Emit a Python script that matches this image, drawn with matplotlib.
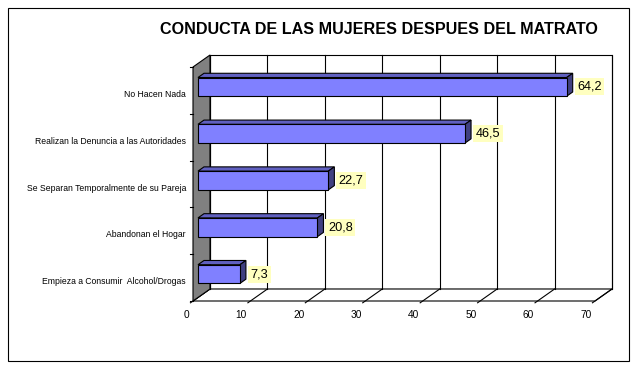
import matplotlib
matplotlib.use('Agg')
import matplotlib.pyplot as plt
from matplotlib.patches import Polygon, Rectangle
from matplotlib.lines import Line2D
from matplotlib.transforms import IdentityTransform, offset_copy

plt.rcParams['font.family'] = ['Liberation Sans', 'DejaVu Sans']

# ---- data ----
categories = ["No Hacen Nada",
              "Realizan la Denuncia a las Autoridades",
              "Se Separan Temporalmente de su Pareja",
              "Abandonan el Hogar",
              "Empieza a Consumir  Alcohol/Drogas"]
values = [64.2, 46.5, 22.7, 20.8, 7.3]
value_labels = ["64,2", "46,5", "22,7", "20,8", "7,3"]
xticks = [0, 10, 20, 30, 40, 50, 60, 70]
xtick_labels = ["0", "10", "20", "30", "40", "50", "60", "70"]
title = "CONDUCTA DE LAS MUJERES DESPUES DEL MATRATO"

W, H = 638, 368
fig = plt.figure(figsize=(W / 100, H / 100), dpi=100)
fig.patch.set_facecolor('white')

# outer border
fig.add_artist(Rectangle((7.5 / W, 1 - 360.5 / H), (629 - 7.5) / W, (360.5 - 7.5) / H,
                         transform=fig.transFigure, fill=False, lw=0.8, ec='black'))

ax = fig.add_axes([193 / W, 1 - 301 / H, (595 - 193) / W, (301 - 67) / H])
ax.set_xlim(xticks[0], xticks[-1])
n = len(categories)
ax.set_ylim(n - 0.5, -0.5)
ax.axis('off')

DX, DY = 17, 12          # depth offset (pixels) of the back wall
D0, D1 = 5 / 17, 11 / 17  # bar front / back depth fractions
LW = 0.8
XMIN, XMAX = xticks[0], xticks[-1]
YTOP, YBOT = -0.5, n - 0.5


def P(x, y, d=0.0):
    px, py = ax.transData.transform((x, y))
    return (px + d * DX, py + d * DY)


def poly(pts, fc, z, ec='black'):
    p = Polygon(pts, closed=True, transform=IdentityTransform(), clip_on=False,
                fc=fc, ec=ec, lw=LW, zorder=z)
    ax.add_patch(p)


def line(a, b, z, color='black'):
    l = Line2D([a[0], b[0]], [a[1], b[1]], transform=IdentityTransform(),
               clip_on=False, color=color, lw=LW, zorder=z)
    ax.add_line(l)


# back wall
poly([P(XMIN, YTOP, 1), P(XMAX, YTOP, 1), P(XMAX, YBOT, 1), P(XMIN, YBOT, 1)], 'white', 1)
for t in xticks:
    line(P(t, YTOP, 1), P(t, YBOT, 1), 2)

# floor
poly([P(XMIN, YBOT, 0), P(XMAX, YBOT, 0), P(XMAX, YBOT, 1), P(XMIN, YBOT, 1)], 'white', 1)
for t in xticks:
    line(P(t, YBOT, -0.15), P(t, YBOT, 1), 2)

# grey side wall
poly([P(XMIN, YTOP, 0), P(XMIN, YTOP, 1), P(XMIN, YBOT, 1), P(XMIN, YBOT, 0)], '#808080', 3)

# category ticks
for k in range(n + 1):
    a = P(XMIN, k - 0.5, 0)
    line((a[0] - 3, a[1]), a, 3)

# bars
bh = 0.4
front_tr = offset_copy(ax.transData, fig=fig, x=D0 * DX, y=D0 * DY, units='dots')
ax.barh(range(n), values, height=bh, left=0, color='#8080FF', edgecolor='black',
        lw=LW, transform=front_tr, zorder=5, clip_on=False)
for i, v in enumerate(values):
    top = i - bh / 2
    bot = i + bh / 2
    poly([P(0, top, D0), P(v, top, D0), P(v, top, D1), P(0, top, D1)], '#6060C0', 4)
    poly([P(v, top, D0), P(v, top, D1), P(v, bot, D1), P(v, bot, D0)], '#404080', 4)
    tr = offset_copy(ax.transData, fig=fig, x=D1 * DX + 4.5, y=D0 * DY, units='dots')
    ax.text(v, i, value_labels[i], transform=tr, ha='left', va='center', fontsize=9.2,
            zorder=6, clip_on=False,
            bbox=dict(boxstyle='square,pad=0.2', fc='#FFFFC0', ec='none'))

# category labels
for i, c in enumerate(categories):
    tr = offset_copy(ax.transData, fig=fig, x=-7, y=-4, units='dots')
    ax.text(XMIN, i, c, transform=tr, ha='right', va='center', fontsize=6.2, clip_on=False)

# x tick labels
for t, lab in zip(xticks, xtick_labels):
    tr = offset_copy(ax.transData, fig=fig, x=-3.5, y=-17, units='dots')
    ax.text(t, YBOT, lab, transform=tr, ha='right', va='baseline', fontsize=7.3, clip_on=False)

fig.text(379 / W, 1 - 34.5 / H, title, ha='center', va='baseline', fontsize=11.6,
         fontweight='bold')

fig.savefig('out.png', dpi=100, facecolor='white')
